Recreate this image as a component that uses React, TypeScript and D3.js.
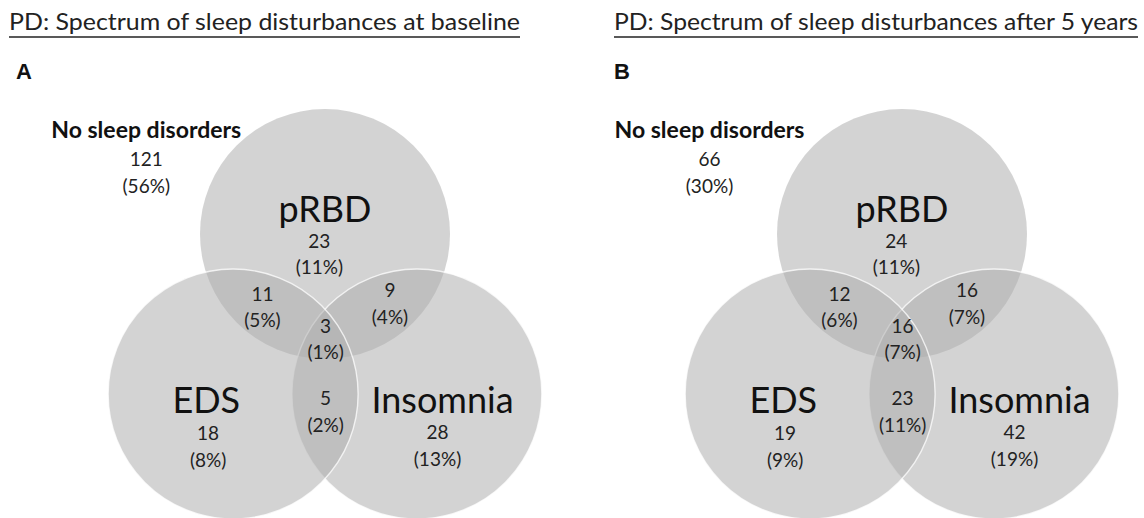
import React from "react";
import * as d3 from "d3";

// chart values
const setNames = ["pRBD", "EDS", "Insomnia"];
const regionKeys = ["pRBD", "EDS", "Insomnia", "pRBD+EDS", "pRBD+Insomnia", "EDS+Insomnia", "all"];
const baselineCounts = [23, 18, 28, 11, 9, 5, 3];
const baselinePct = [11, 8, 13, 5, 4, 2, 1];
const followupCounts = [24, 19, 42, 12, 16, 23, 16];
const followupPct = [11, 9, 19, 6, 7, 11, 7];
const noDisorderCounts = [121, 66];
const noDisorderPct = [56, 30];
const panelTitles = [
  "PD: Spectrum of sleep disturbances at baseline",
  "PD: Spectrum of sleep disturbances after 5 years",
];
const panelLetters = ["A", "B"];

const W = 1144;
const H = 518;
const R = 125;
const FONT = "Lato, 'Open Sans', sans-serif";

// venn layout in radius units (origin = midpoint between EDS and Insomnia)
const circleCenters: Record<string, [number, number]> = {
  pRBD: [0, -1.28],
  EDS: [-0.735, 0],
  Insomnia: [0.735, 0],
};
// label anchors in radius units: [x, count baseline]
const regionAnchors: Record<string, [number, number]> = {
  pRBD: [-0.045, -1.17],
  EDS: [-0.935, 0.37],
  Insomnia: [0.9, 0.36],
  "pRBD+EDS": [-0.5, -0.745],
  "pRBD+Insomnia": [0.52, -0.775],
  "EDS+Insomnia": [0.005, 0.09],
  all: [0.005, -0.49],
};
const nameAnchors: Record<string, [number, number]> = {
  pRBD: [0, -1.38],
  EDS: [-0.95, 0.148],
  Insomnia: [0.94, 0.148],
};
const drawOrder = ["pRBD", "Insomnia", "EDS"];

const panels = [
  { originX: 325, titleX: 9, titleLen: 511, letterX: 16, noSleepX: -1.43, counts: baselineCounts, pct: baselinePct },
  { originX: 902, titleX: 614, titleLen: 524, letterX: 614, noSleepX: -1.54, counts: followupCounts, pct: followupPct },
];

function Panel({ i }: { i: number }) {
  const p = panels[i];
  const originY = 394;
  const x = d3.scaleLinear().domain([-1, 1]).range([p.originX - R, p.originX + R]);
  const y = d3.scaleLinear().domain([-1, 1]).range([originY - R, originY + R]);
  const lineGap = 26.5;

  return (
    <g>
      <text x={p.titleX} y={30} fontFamily={FONT} fontSize={24} fill="#222"
        textLength={p.titleLen} lengthAdjust="spacingAndGlyphs">
        {panelTitles[i]}
      </text>
      <line x1={p.titleX} x2={p.titleX + p.titleLen} y1={37} y2={37} stroke="#222" strokeWidth={1.4} />
      <text x={p.letterX} y={78.5} fontFamily="'Liberation Sans', Arial, sans-serif" fontWeight="bold"
        fontSize={22} fill="#111">
        {panelLetters[i]}
      </text>

      {drawOrder.map((k) => (
        <circle key={k} cx={x(circleCenters[k][0])} cy={y(circleCenters[k][1])} r={R}
          fill="#aeaeae" fillOpacity={0.55}
          stroke="#fff" strokeOpacity={k === "pRBD" ? 0 : 0.75} strokeWidth={1.4} />
      ))}

      <g fontFamily={FONT} textAnchor="middle">
        <text x={x(p.noSleepX)} y={y(-2.048)} fontWeight="bold" fontSize={22} fill="#111"
          textLength={190} lengthAdjust="spacingAndGlyphs">
          No sleep disorders
        </text>
        <text x={x(p.noSleepX)} y={y(-1.824)} fontSize={19} fill="#222">{noDisorderCounts[i]}</text>
        <text x={x(p.noSleepX)} y={y(-1.824) + lineGap} fontSize={19} fill="#222">({noDisorderPct[i]}%)</text>

        {setNames.map((k) => (
          <text key={k} x={x(nameAnchors[k][0])} y={y(nameAnchors[k][1])} fontSize={36} fill="#111">{k}</text>
        ))}

        {regionKeys.map((k, j) => (
          <g key={k}>
            <text x={x(regionAnchors[k][0])} y={y(regionAnchors[k][1])} fontSize={19} fill="#222">
              {p.counts[j]}
            </text>
            <text x={x(regionAnchors[k][0])} y={y(regionAnchors[k][1]) + lineGap} fontSize={19} fill="#222">
              ({p.pct[j]}%)
            </text>
          </g>
        ))}
      </g>
    </g>
  );
}

export default function App() {
  return (
    <svg width={W} height={H} viewBox={`0 0 ${W} ${H}`}
      style={{ position: "absolute", left: 0, top: 0, background: "#fff", display: "block" }}>
      <rect width={W} height={H} fill="#fff" />
      {panels.map((_, i) => <Panel key={i} i={i} />)}
    </svg>
  );
}
